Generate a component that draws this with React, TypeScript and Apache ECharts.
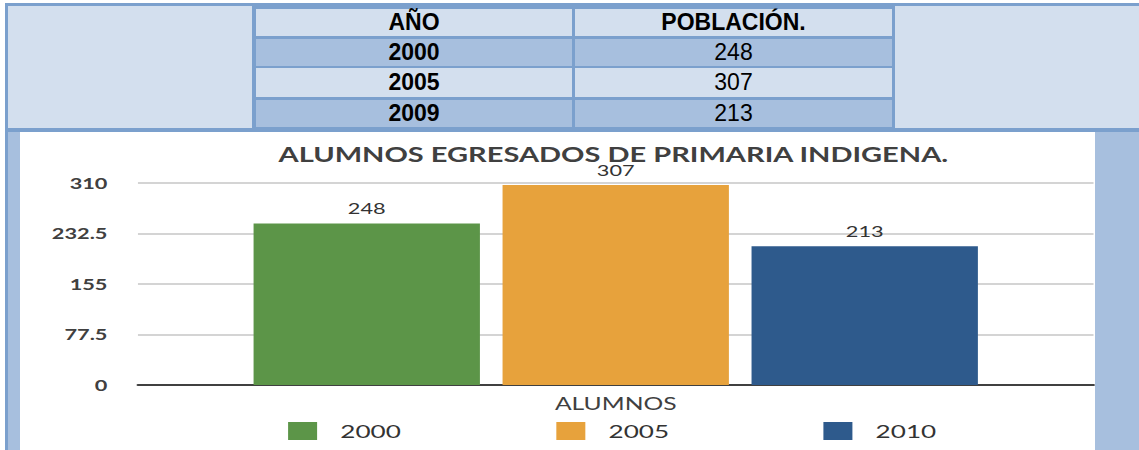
import React, { useEffect, useRef } from "react";
import * as echarts from "echarts";

// Table data
const tableHeaders = ["AÑO", "POBLACIÓN."];
const tableYears = ["2000", "2005", "2009"];
const tablePopulation = [248, 307, 213];

// Chart data
const chartTitle = "ALUMNOS EGRESADOS DE PRIMARIA INDIGENA.";
const chartCategories = ["ALUMNOS"];
const seriesNames = ["2000", "2005", "2010"];
const seriesValues = [248, 307, 213];
const seriesColors = ["#5c9548", "#e7a23c", "#2e5a8c"];
const yMax = 310;
const yInterval = 77.5;

const DARK = "#7ba0cd";
const LIGHT = "#d3dfee";
const MEDIUM = "#a7bfde";

const SCALE_X = 1.4507;

function Box(props: { x: number; y: number; w: number; h: number; bg: string; children?: any; bold?: boolean }) {
  return (
    <div
      style={{
        position: "absolute",
        left: props.x,
        top: props.y,
        width: props.w,
        height: props.h,
        background: props.bg,
        display: "flex",
        alignItems: "center",
        justifyContent: "center",
        fontFamily: "'Liberation Sans', Arial, sans-serif",
        fontSize: 23,
        fontWeight: props.bold ? 700 : 400,
        color: "#000",
        lineHeight: "23px",
      }}
    >
      {props.children}
    </div>
  );
}

export default function App() {
  const ref = useRef<HTMLDivElement>(null);

  useEffect(() => {
    if (!ref.current) return;
    const chart = echarts.init(ref.current, undefined, { renderer: "svg" });
    const font = "Lato";
    const legendLefts = [184.8, 369.7, 553.8];
    chart.setOption({
      animation: false,
      title: {
        text: chartTitle,
        left: 409,
        top: 15,
        textAlign: "center",
        padding: 0,
        textStyle: { fontFamily: font, fontSize: 20, fontWeight: 700, color: "#404040", lineHeight: 14 },
      },
      legend: seriesNames.map((n, i) => ({
        data: [n],
        left: legendLefts[i],
        top: 290,
        padding: 0,
        itemWidth: 20,
        itemHeight: 18,
        icon: "rect",
        textStyle: { fontFamily: font, fontSize: 18, color: "#333", padding: [0, 0, 0, 11] },
      })),
      grid: { left: 81.3, right: 1, top: 51, bottom: 65, containLabel: false },
      xAxis: {
        type: "category",
        data: chartCategories,
        axisLine: { show: true, lineStyle: { color: "#404040", width: 2 } },
        axisTick: { show: false },
        axisLabel: { fontFamily: font, fontSize: 17, color: "#404040", margin: 10 },
      },
      yAxis: {
        type: "value",
        min: 0,
        max: yMax,
        interval: yInterval,
        axisLine: { show: false },
        axisTick: { show: false },
        axisLabel: { fontFamily: font, fontSize: 15, fontWeight: 700, color: "#404040", margin: 21 },
        splitLine: { lineStyle: { color: "#d4d4d4", width: 2 } },
      },
      series: seriesNames.map((n, i) => ({
        name: n,
        type: "bar",
        data: [seriesValues[i]],
        itemStyle: { color: seriesColors[i] },
        barGap: "10%",
        barCategoryGap: "24.2%",
        label: {
          show: true,
          position: "top",
          distance: 9,
          fontFamily: font,
          fontSize: 15,
          lineHeight: 12,
          color: "#333",
        },
      })),
    });
    return () => chart.dispose();
  }, []);

  return (
    <div style={{ position: "absolute", left: 0, top: 0, width: 1139, height: 450, background: "#fff", overflow: "hidden" }}>
      {/* table frame */}
      <div style={{ position: "absolute", left: 5, top: 3, width: 1134, height: 129, background: DARK }} />
      <Box x={8} y={6} w={244} h={122} bg={LIGHT} />
      <Box x={895} y={6} w={244} h={122} bg={LIGHT} />
      <Box x={256} y={9} w={316} h={27} bg={LIGHT} bold>{tableHeaders[0]}</Box>
      <Box x={575} y={9} w={317} h={27} bg={LIGHT} bold>{tableHeaders[1]}</Box>
      {[
        [39, 27, MEDIUM],
        [68, 29, LIGHT],
        [100, 27, MEDIUM],
      ].map((r, i) => (
        <React.Fragment key={i}>
          <Box x={256} y={r[0] as number} w={316} h={r[1] as number} bg={r[2] as string} bold>{tableYears[i]}</Box>
          <Box x={575} y={r[0] as number} w={317} h={r[1] as number} bg={r[2] as string}>{tablePopulation[i]}</Box>
        </React.Fragment>
      ))}
      {/* chart frame */}
      <div style={{ position: "absolute", left: 5, top: 132, width: 3, height: 318, background: DARK }} />
      <div style={{ position: "absolute", left: 8, top: 132, width: 12, height: 318, background: MEDIUM }} />
      <div style={{ position: "absolute", left: 20, top: 132, width: 1075, height: 318, background: "#fff" }} />
      <div style={{ position: "absolute", left: 1095, top: 132, width: 44, height: 318, background: MEDIUM }} />
      <div
        ref={ref}
        style={{
          position: "absolute",
          left: 20,
          top: 132,
          width: 741,
          height: 318,
          transform: `scaleX(${SCALE_X})`,
          transformOrigin: "0 0",
        }}
      />
    </div>
  );
}
